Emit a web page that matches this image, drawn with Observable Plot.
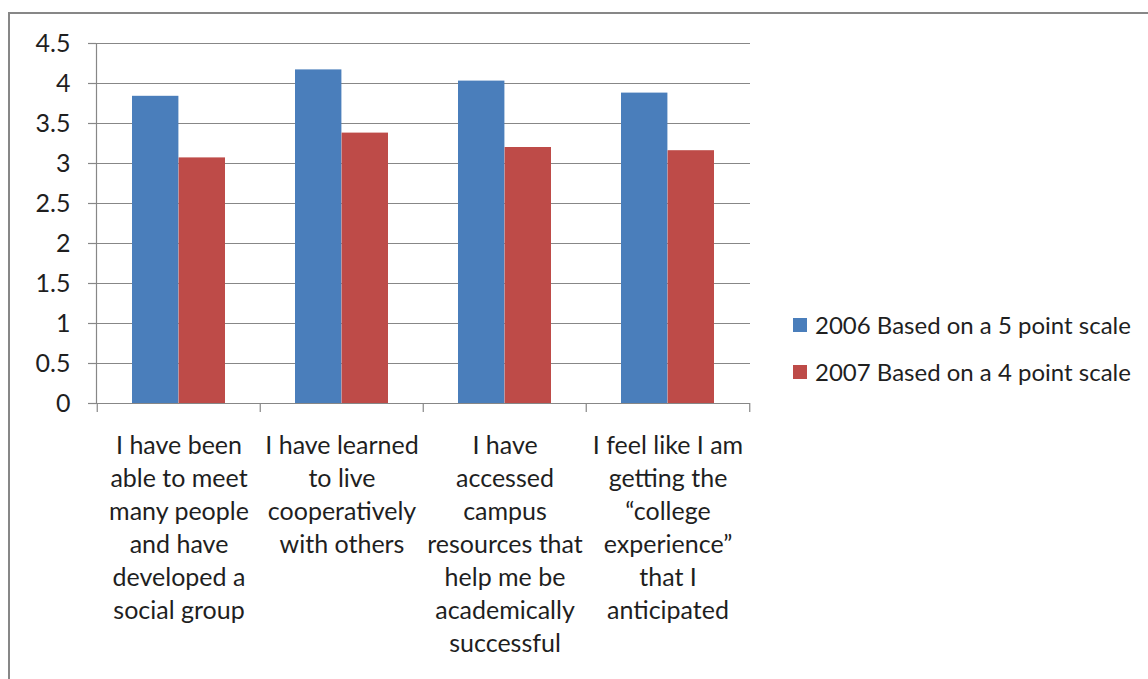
<!DOCTYPE html>
<html>
<head>
<meta charset="utf-8">
<script src="https://cdn.jsdelivr.net/npm/d3@7"></script>
<script src="https://cdn.jsdelivr.net/npm/@observablehq/plot@0.6"></script>
<style>
html, body { margin: 0; padding: 0; background: #fff; }
#wrap { position: relative; width: 1148px; height: 679px; overflow: hidden; font-family: Lato, sans-serif; }
#frame { position: absolute; left: 8px; top: 12px; width: 1300px; height: 900px; border-left: 2px solid #878787; border-top: 2px solid #878787; }
#chart { position: absolute; left: 0; top: 0; }
#legend { position: absolute; left: 793px; top: 310px; }
#legend .lg-swatch { font-size: 24px; line-height: 30px; height: 30px; margin: 0 0 17px 0; padding: 0; color: #1f1f1f; display: flex; align-items: center; font-family: Lato, sans-serif; }
#legend .lg-swatch svg { margin-right: 8px; }
</style>
</head>
<body>
<div id="wrap">
  <div id="frame"></div>
  <div id="chart"></div>
  <div id="legend"></div>
</div>
<script>
const categories = [
  "I have been able to meet many people and have developed a social group",
  "I have learned to live cooperatively with others",
  "I have accessed campus resources that help me be academically successful",
  "I feel like I am getting the “college experience” that I anticipated"
];
const categoryLabels = [
  "I have been\nable to meet\nmany people\nand have\ndeveloped a\nsocial group",
  "I have learned\nto live\ncooperatively\nwith others",
  "I have\naccessed\ncampus\nresources that\nhelp me be\nacademically\nsuccessful",
  "I feel like I am\ngetting the\n“college\nexperience”\nthat I\nanticipated"
];
const seriesNames = ["2006 Based on a 5 point scale", "2007 Based on a 4 point scale"];
const values2006 = [3.84, 4.17, 4.03, 3.88];
const values2007 = [3.07, 3.38, 3.20, 3.16];
const yTicks = [0, 0.5, 1, 1.5, 2, 2.5, 3, 3.5, 4, 4.5];
const colors = ["#4a7ebb", "#be4b48"];

const W = 780, H = 679, ML = 96, MR = 30, MT = 43, MB = 276;
const padInner = 0.43;
const step = (W - ML - MR) / categories.length;
const bw = step * (1 - padInner);
const grey = "#878787";
const ink = "#1f1f1f";

const rows = categories.map((c, i) => ({
  category: c, label: categoryLabels[i], v2006: values2006[i], v2007: values2007[i]
}));

const plot = Plot.plot({
  width: W, height: H,
  marginLeft: ML, marginRight: MR, marginTop: MT, marginBottom: MB,
  style: { fontFamily: "Lato, sans-serif", fontSize: "25px", color: ink, background: "transparent", overflow: "visible" },
  x: { domain: categories, paddingInner: padInner, paddingOuter: padInner / 2, axis: null },
  y: { domain: [0, 4.5], axis: null, label: null },
  marks: [
    Plot.gridY({ ticks: yTicks, stroke: grey, strokeOpacity: 1, strokeWidth: 1.2 }),
    Plot.axisY({ ticks: yTicks, tickSize: 8, tickPadding: 18, stroke: grey, strokeWidth: 1.2, fill: ink, fontSize: 25, label: null, tickFormat: d => String(d) }),
    Plot.frame({ anchor: "left", stroke: grey, strokeWidth: 1.2 }),
    Plot.barY(rows, { x: "category", y: "v2006", fill: colors[0], insetRight: bw / 2 }),
    Plot.barY(rows, { x: "category", y: "v2007", fill: colors[1], insetLeft: bw / 2 }),
    Plot.ruleY([0], { stroke: grey, strokeWidth: 1.2 }),
    Plot.ruleX(categories, { x: d => d, y1: 0, y2: 0, insetBottom: -9, dx: -step / 2, stroke: grey, strokeWidth: 1.2 }),
    Plot.ruleX(categories.slice(-1), { x: d => d, y1: 0, y2: 0, insetBottom: -9, dx: step / 2, stroke: grey, strokeWidth: 1.2 }),
    Plot.text(rows, { x: "category", text: "label", frameAnchor: "bottom", lineAnchor: "top", dy: 27, lineHeight: 1.32, fontSize: 25, fill: ink })
  ]
});
document.getElementById("chart").appendChild(plot);

const legend = Plot.legend({
  color: { domain: seriesNames, range: colors },
  legend: "swatches",
  columns: 1,
  swatchSize: 14,
  className: "lg"
});
document.getElementById("legend").appendChild(legend);
</script>
</body>
</html>
